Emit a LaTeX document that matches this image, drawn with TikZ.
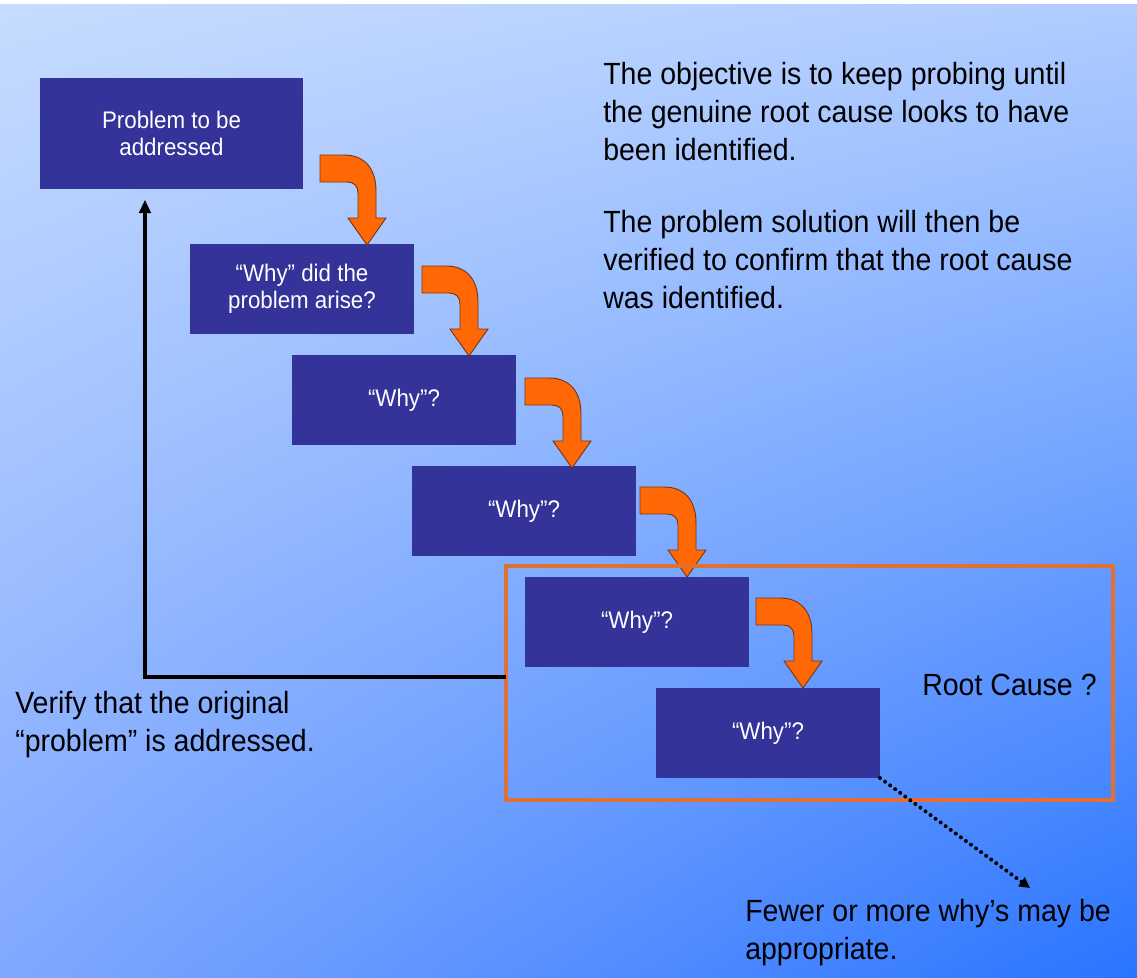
\documentclass[tikz,border=0pt]{standalone}
\usepackage{fontspec}
\setmainfont{Liberation Sans}
\newfontfamily\notefont[FakeStretch=0.93]{Liberation Sans}
\usetikzlibrary{arrows.meta,shadings}

\definecolor{whyblue}{RGB}{51,51,153}
\definecolor{arroworange}{RGB}{255,104,4}
\definecolor{arrowedge}{RGB}{120,55,25}
\definecolor{frameorange}{RGB}{226,112,52}
\definecolor{bgtl}{RGB}{198,220,255}
\definecolor{bgtr}{RGB}{176,204,255}
\definecolor{bgbl}{RGB}{128,168,255}
\definecolor{bgbr}{RGB}{42,116,255}

\begin{document}
\begin{tikzpicture}[x=0.75pt,y=-0.75pt,
  whybox/.style={fill=whyblue, text=white, align=center, anchor=north west, outer sep=0pt,
    font=\notefont\fontsize{18}{20.5}\selectfont, minimum width=168pt, minimum height=67.5pt},
  note/.style={align=left, anchor=north west, inner sep=0pt, font=\notefont\fontsize{23}{28.5}\selectfont},
  causeframe/.style={draw=frameorange, line width=3pt, anchor=north west, outer sep=0pt,
    minimum width=455.25pt, minimum height=175.5pt},
  verifyline/.style={line width=3pt, -{Triangle[length=10pt,width=8.5pt]}},
  dotline/.style={line width=3pt, line cap=round, dash pattern=on 0pt off 4.7pt,
    -{Triangle[length=8pt,width=8pt]}},
  bendarrow/.pic={
    \filldraw[fill=arroworange, draw=arrowedge, line width=0.7pt]
      (0,0) -- (24,0) .. controls (45,0) and (56,14) .. (56,36) -- (56,63) -- (66,63)
      -- (47,90) -- (28,63) -- (38,63) -- (38,38) .. controls (38,31) and (34,27) .. (27,27)
      -- (0,27) -- cycle;
  }]
\useasboundingbox (0,0) rectangle (1137,977);
\fill[white] (0,0) rectangle (1137,977);
\shade[upper left=bgtl, upper right=bgtr, lower left=bgbl, lower right=bgbr] (0,5) rectangle (1137,977);

% the chain of whys
\node[whybox, minimum width=197.25pt, minimum height=83.25pt] (prob) at (40,78) {Problem to be\\addressed};
\node[whybox] (why1) at (190,244) {“Why” did the\\problem arise?};
\node[whybox] (why2) at (292,355) {“Why”?};
\node[whybox] (why3) at (412,466) {“Why”?};
\node[whybox] (why4) at (525,577) {“Why”?};
\node[whybox] (why5) at (656,688) {“Why”?};

\pic at (320,155) {bendarrow};
\pic at (422,266) {bendarrow};
\pic at (525,378) {bendarrow};
\pic at (640,487) {bendarrow};
\pic at (756,598) {bendarrow};

% root cause frame
\node[causeframe] (rootbox) at (506,566) {};
\node[note] (rootq) at (922,674) {Root Cause ?};

% notes
\node[note] (goal) at (603,62) {The objective is to keep probing until\\the genuine root cause looks to have\\been identified.};
\node[note] (verif) at (603,210) {The problem solution will then be\\verified to confirm that the root cause\\was identified.};
\node[note] (verify) at (15,691) {Verify that the original\\“problem” is addressed.};
\node[note] (fewer) at (745,899) {Fewer or more why’s may be\\appropriate.};

\draw[verifyline] ([yshift=4.5pt]rootbox.west) -| ([xshift=-19.9pt,yshift=-8pt]prob.south);
\coordinate (fewerend) at (1030,888);
\draw[dotline] (why5.south east) -- (fewerend);
\end{tikzpicture}
\end{document}
